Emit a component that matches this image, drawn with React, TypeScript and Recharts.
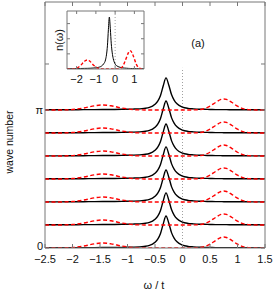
import React from 'react';
import { LineChart, Line, XAxis, YAxis, ReferenceLine } from 'recharts';

// frequency grid (ω / t)
const omega = [-2.5, -2.2, -2.0, -1.8, -1.6, -1.45, -1.3, -1.1, -0.9, -0.7, -0.6, -0.5, -0.45, -0.4, -0.35, -0.3, -0.25, -0.2, -0.15, -0.1, 0, 0.1, 0.2, 0.3, 0.4, 0.5, 0.6, 0.7, 0.75, 0.8, 0.9, 1.0, 1.1, 1.2, 1.35, 1.5];

// main panel: spectral weight per wave number (height above its baseline)
const mainBlack = [0.004, 0.004, 0.006, 0.007, 0.009, 0.01, 0.011, 0.015, 0.02, 0.037, 0.058, 0.13, 0.2, 0.33, 0.55, 0.73, 0.57, 0.35, 0.22, 0.14, 0.066, 0.037, 0.026, 0.018, 0.015, 0.011, 0.009, 0.008, 0.007, 0.007, 0.006, 0.005, 0.005, 0.004, 0.004, 0.003];
const mainRed = [0, 0.001, 0.01, 0.043, 0.095, 0.114, 0.095, 0.043, 0.01, 0.001, 0, 0, 0, 0, 0, 0, 0, 0, 0, 0, 0, 0, 0.002, 0.008, 0.03, 0.086, 0.17, 0.24, 0.25, 0.24, 0.17, 0.086, 0.03, 0.008, 0.001, 0];

// wave numbers 0 .. π
const waveNumbers = [0, 0.524, 1.047, 1.571, 2.094, 2.618, 3.142];

// inset: n(ω)
const insetBlack = [0.006, 0.007, 0.008, 0.01, 0.012, 0.013, 0.015, 0.02, 0.03, 0.06, 0.1, 0.18, 0.28, 0.46, 0.78, 1.03, 0.8, 0.5, 0.32, 0.21, 0.1, 0.06, 0.04, 0.03, 0.022, 0.018, 0.015, 0.012, 0.011, 0.01, 0.009, 0.008, 0.007, 0.006, 0.005, 0.005];
const insetRed = [0, 0.003, 0.017, 0.068, 0.15, 0.18, 0.15, 0.068, 0.017, 0.002, 0, 0, 0, 0, 0, 0, 0, 0, 0, 0, 0, 0, 0.004, 0.017, 0.06, 0.14, 0.24, 0.33, 0.36, 0.36, 0.3, 0.2, 0.095, 0.035, 0.006, 0];

const mainTicks = [-2.5, -2, -1.5, -1, -0.5, 0, 0.5, 1, 1.5];
const insetTicks = [-2, -1, 0, 1];
const kTicks = [0, Math.PI, (4 * Math.PI) / 3];
const insetYTicks = [0.3, 0.6, 0.9];

const FONT = '"Liberation Sans", Arial, Helvetica, sans-serif';
const FRAME = '#777';

const fmt = (v: number) => (v < 0 ? '\u2212' + Math.abs(v) : String(v));

const mainData = omega.map((w, i) => {
  const row: Record<string, number> = { w };
  waveNumbers.forEach((k, j) => {
    row['b' + j] = k + mainBlack[i];
    row['r' + j] = k + mainRed[i];
  });
  return row;
});

const insetData = omega.map((w, i) => ({ w, n: insetBlack[i], m: insetRed[i] }));

function Txt({ x, y, size = 11, rotate = 0, children }: { x: number; y: number; size?: number; rotate?: number; children: React.ReactNode }) {
  return (
    <div
      style={{
        position: 'absolute',
        left: x,
        top: y,
        transform: `translate(-50%, -50%) rotate(${rotate}deg)`,
        fontFamily: FONT,
        fontSize: size,
        lineHeight: 1,
        whiteSpace: 'nowrap',
        color: '#111',
      }}
    >
      {children}
    </div>
  );
}

// left tick labels: 0 and π only
function KTick({ x, y, payload }: { x?: number; y?: number; payload?: { value: number } }) {
  const v = payload ? payload.value : 0;
  const label = v === 0 ? '0' : v < 3.5 ? '\u03c0' : '';
  return (
    <text x={x} y={(y || 0) + (v === 0 ? 1.5 : 4)} textAnchor="end" fill="#111" fontSize={11} fontFamily={FONT}>
      {label}
    </text>
  );
}

const tickStyle = { fill: '#111', fontSize: 11, fontFamily: FONT };

export default function App() {
  return (
    <div style={{ position: 'absolute', left: 0, top: 0, width: 274, height: 293, background: '#fff' }}>
      <LineChart width={274} height={293} data={mainData} margin={{ top: 1, right: 8, bottom: 25, left: 15 }}>
        <XAxis
          xAxisId="b"
          type="number"
          dataKey="w"
          domain={[-2.5, 1.5]}
          ticks={mainTicks}
          interval={0}
          allowDataOverflow
          tickFormatter={fmt}
          tickSize={-4}
          tickMargin={11}
          height={20}
          stroke={FRAME}
          tick={tickStyle}
        />
        <XAxis
          xAxisId="t"
          orientation="top"
          type="number"
          dataKey="w"
          domain={[-2.5, 1.5]}
          ticks={mainTicks}
          interval={0}
          allowDataOverflow
          tickFormatter={() => ''}
          tickSize={-4}
          height={1}
          stroke={FRAME}
        />
        <YAxis
          yAxisId="l"
          type="number"
          domain={[0, 5.6]}
          ticks={kTicks}
          interval={0}
          allowDataOverflow
          tickSize={-4}
          tickMargin={6}
          width={30}
          stroke={FRAME}
          tick={<KTick />}
        />
        <YAxis
          yAxisId="r"
          orientation="right"
          type="number"
          domain={[0, 5.6]}
          ticks={kTicks}
          interval={0}
          allowDataOverflow
          tickFormatter={() => ''}
          tickSize={-4}
          width={1}
          stroke={FRAME}
        />
        <ReferenceLine
          xAxisId="b"
          yAxisId="l"
          segment={[{ x: 0, y: 0 }, { x: 0, y: 4.1 }]}
          stroke="#888"
          strokeDasharray="1 2"
          strokeWidth={0.8}
        />
        {waveNumbers.map((_, j) => [
          <Line
            key={'b' + j}
            xAxisId="b"
            yAxisId="l"
            type="monotone"
            dataKey={'b' + j}
            stroke="#000"
            strokeWidth={1.4}
            dot={false}
            isAnimationActive={false}
          />,
          <Line
            key={'r' + j}
            xAxisId="b"
            yAxisId="l"
            type="monotone"
            dataKey={'r' + j}
            stroke="#f00"
            strokeWidth={1.4}
            strokeDasharray="4 2.5"
            dot={false}
            isAnimationActive={false}
          />,
        ])}
      </LineChart>

      <div style={{ position: 'absolute', left: 52, top: 8 }}>
        <LineChart width={100} height={85} data={insetData} margin={{ top: 2, right: 7, bottom: 6, left: 5 }}>
          <XAxis
            xAxisId="b"
            type="number"
            dataKey="w"
            domain={[-2.5, 1.5]}
            ticks={insetTicks}
            interval={0}
            allowDataOverflow
            tickFormatter={fmt}
            tickSize={-3}
            tickMargin={9}
            height={18}
            stroke={FRAME}
            tick={tickStyle}
          />
          <XAxis
            xAxisId="t"
            orientation="top"
            type="number"
            dataKey="w"
            domain={[-2.5, 1.5]}
            ticks={insetTicks}
            interval={0}
            allowDataOverflow
            tickFormatter={() => ''}
            tickSize={-3}
            height={1}
            stroke={FRAME}
          />
          <YAxis
            yAxisId="l"
            type="number"
            domain={[0, 1.15]}
            ticks={insetYTicks}
            interval={0}
            allowDataOverflow
            tickFormatter={() => ''}
            tickSize={-3}
            width={10}
            stroke={FRAME}
          />
          <YAxis
            yAxisId="r"
            orientation="right"
            type="number"
            domain={[0, 1.15]}
            ticks={insetYTicks}
            interval={0}
            allowDataOverflow
            tickFormatter={() => ''}
            tickSize={-3}
            width={1}
            stroke={FRAME}
          />
          <ReferenceLine xAxisId="b" yAxisId="l" x={0} stroke="#888" strokeDasharray="1 2" strokeWidth={0.8} />
          <Line xAxisId="b" yAxisId="l" type="monotone" dataKey="n" stroke="#000" strokeWidth={1} dot={false} isAnimationActive={false} />
          <Line
            xAxisId="b"
            yAxisId="l"
            type="monotone"
            dataKey="m"
            stroke="#f00"
            strokeWidth={1.4}
            strokeDasharray="3 2"
            dot={false}
            isAnimationActive={false}
          />
        </LineChart>
      </div>

      <Txt x={59} y={40} rotate={-90}>n(ω)</Txt>
      <Txt x={198} y={43}>(a)</Txt>
      <Txt x={9} y={142} size={10.5} rotate={-90}>wave number</Txt>
      <Txt x={154} y={285}>ω / t</Txt>
    </div>
  );
}
